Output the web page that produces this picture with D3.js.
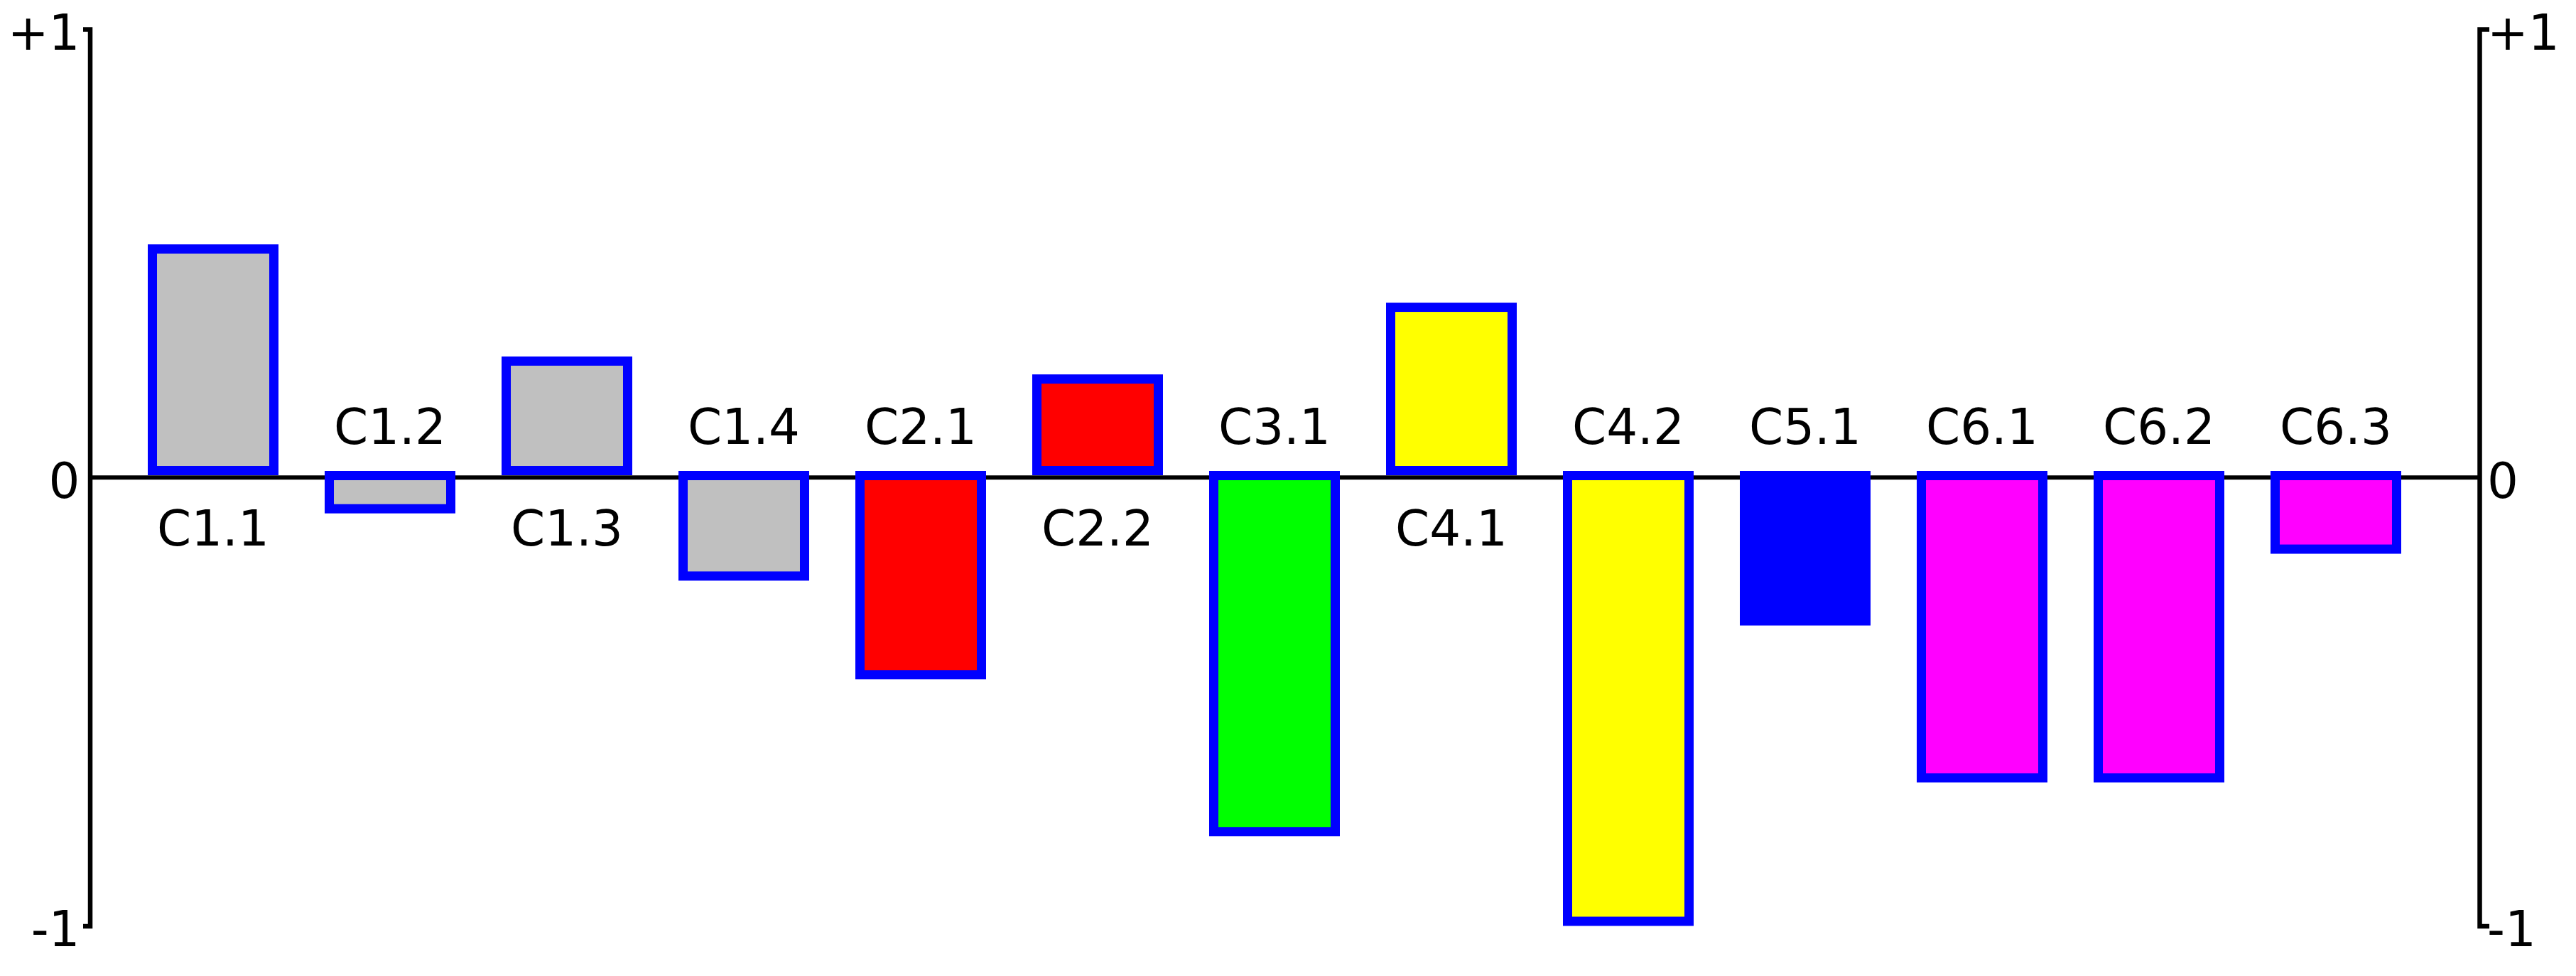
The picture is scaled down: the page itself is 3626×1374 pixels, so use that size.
<!DOCTYPE html>
<html>
<head>
<meta charset="utf-8">
<script src="https://cdn.jsdelivr.net/npm/d3@7"></script>
<style>
  html, body { margin: 0; padding: 0; background: #ffffff; }
  svg { display: block; }
  text { font-family: "DejaVu Sans", Verdana, sans-serif; }
</style>
</head>
<body>
<svg id="chart" width="3626" height="1374"></svg>
<script>
// ---- data ----
const categories = ["C1.1", "C1.2", "C1.3", "C1.4", "C2.1", "C2.2", "C3.1", "C4.1", "C4.2", "C5.1", "C6.1", "C6.2", "C6.3"];
const values     = [0.52, -0.08, 0.27, -0.23, -0.45, 0.23, -0.80, 0.39, -1.00, -0.33, -0.68, -0.68, -0.17];
const groups     = ["C1", "C1", "C1", "C1", "C2", "C2", "C3", "C4", "C4", "C5", "C6", "C6", "C6"];
const groupNames = ["C1", "C2", "C3", "C4", "C5", "C6"];
const yTicks      = [-1, 0, 1];
const yTickLabels = ["-1", "0", "+1"];

// ---- layout ----
const W = 3626, H = 1374;
const axisLeftX = 126.5, axisRightX = 3490;
const yTop = 41, yBottom = 1303.5;
const strokeW = 13;

const svg = d3.select("#chart");

const x = d3.scaleBand()
  .domain(categories)
  .range([175.5, 175.5 + 13 * 249])
  .paddingInner(0.3133)
  .paddingOuter(0.3133 / 2);

const y = d3.scaleLinear().domain([-1, 1]).range([yBottom, yTop]);

const color = d3.scaleOrdinal()
  .domain(groupNames)
  .range(["#c0c0c0", "#ff0000", "#00ff00", "#ffff00", "#0000ff", "#ff00ff"]);

const y0 = y(0);
const labelFor = new Map(yTicks.map((t, i) => [t, yTickLabels[i]]));

// zero line
svg.append("line")
  .attr("x1", axisLeftX).attr("x2", axisRightX)
  .attr("y1", y0).attr("y2", y0)
  .attr("stroke", "#000").attr("stroke-width", 6);

// left axis
const gL = svg.append("g").attr("transform", `translate(${axisLeftX},0)`)
  .call(d3.axisLeft(y).tickValues(yTicks).tickFormat(d => labelFor.get(d))
    .tickSizeInner(0).tickSizeOuter(9.5).tickPadding(14));
// right axis
const gR = svg.append("g").attr("transform", `translate(${axisRightX},0)`)
  .call(d3.axisRight(y).tickValues(yTicks).tickFormat(d => labelFor.get(d))
    .tickSizeInner(0).tickSizeOuter(14).tickPadding(11));

[gL, gR].forEach(g => {
  g.select(".domain").attr("stroke", "#000").attr("stroke-width", 6.5)
    .attr("fill", "none").attr("stroke-linejoin", "miter");
  g.selectAll(".tick line").remove();
  g.selectAll(".tick text")
    .attr("dy", null)
    .attr("y", 28)
    .attr("fill", "#000")
    .style("font-family", "'DejaVu Sans', Verdana, sans-serif")
    .style("font-size", "69px");
  g.attr("font-family", null).attr("font-size", null);
});

// bars
const data = categories.map((c, i) => ({ c, v: values[i], g: groups[i] }));

svg.append("g").selectAll("rect")
  .data(data)
  .join("rect")
  .attr("x", d => x(d.c))
  .attr("width", x.bandwidth())
  .attr("y", d => d.v >= 0 ? y(d.v) + strokeW / 2 : y0 - 9.25 + strokeW / 2)
  .attr("height", d => d.v >= 0
      ? (y0 - 3.25 - strokeW / 2) - (y(d.v) + strokeW / 2)
      : (y(d.v) - strokeW / 2) - (y0 - 9.25 + strokeW / 2))
  .attr("fill", d => color(d.g))
  .attr("stroke", "#0000ff")
  .attr("stroke-width", strokeW);

// category labels
svg.append("g").selectAll("text")
  .data(data)
  .join("text")
  .attr("x", d => x(d.c) + x.bandwidth() / 2)
  .attr("y", d => d.v >= 0 ? y0 + 96 : y0 - 47)
  .attr("text-anchor", "middle")
  .attr("fill", "#000")
  .style("font-size", "69px")
  .text(d => d.c);
</script>
</body>
</html>
